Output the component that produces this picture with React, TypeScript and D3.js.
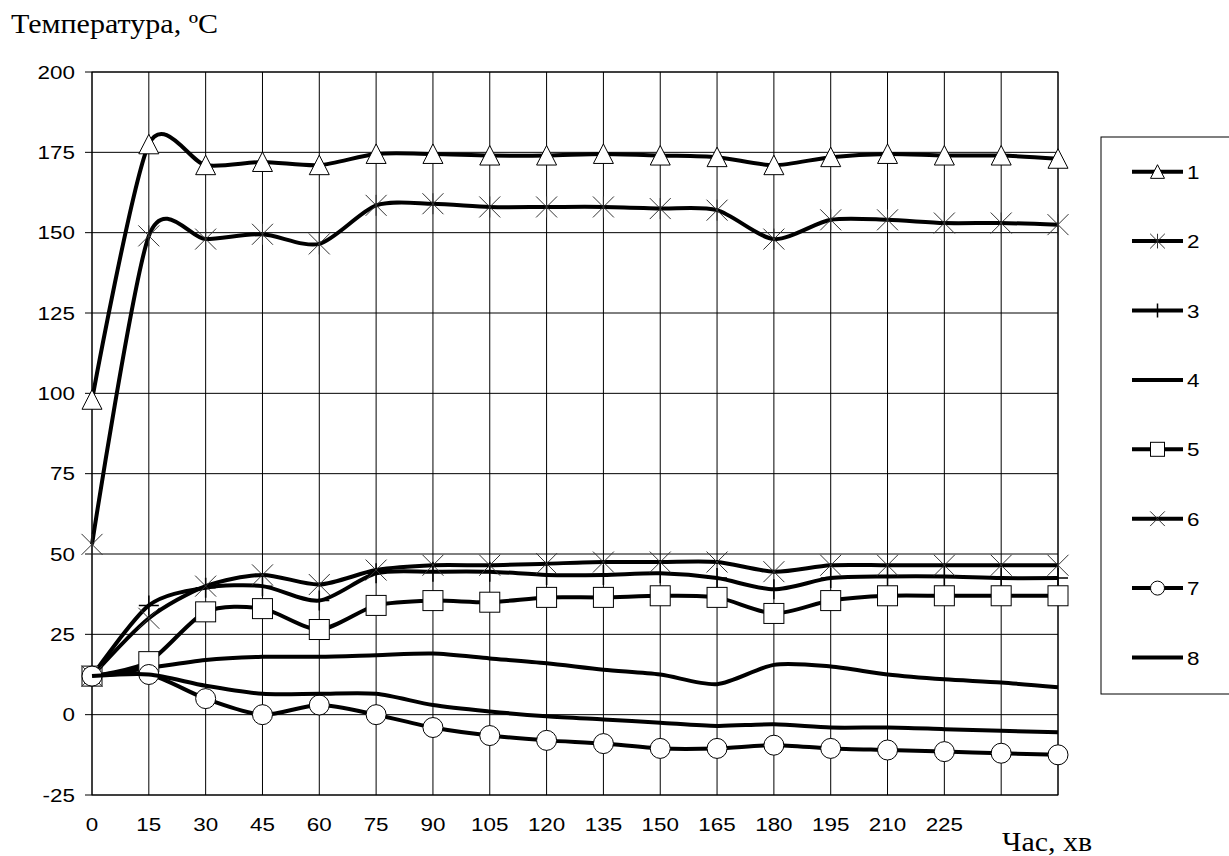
import React from 'react';
import * as d3 from 'd3';

// ---- data ----
const times = [0, 15, 30, 45, 60, 75, 90, 105, 120, 135, 150, 165, 180, 195, 210, 225, 240, 255];
const xTickLabels = [0, 15, 30, 45, 60, 75, 90, 105, 120, 135, 150, 165, 180, 195, 210, 225];
const yTicks = [-25, 0, 25, 50, 75, 100, 125, 150, 175, 200];

const series1 = [98, 177.5, 171, 172, 171, 174.5, 174.5, 174, 174, 174.5, 174, 173.5, 171, 173.5, 174.5, 174, 174, 173];
const series2 = [53, 149, 148, 149.5, 146.5, 158.5, 159, 158, 158, 158, 157.5, 157, 148, 154, 154, 153, 153, 152.5];
const series3 = [12, 34, 39.5, 40, 35.5, 44, 44.5, 44.5, 43.5, 43.5, 44, 42.5, 39, 42.5, 43, 43, 42.5, 42.5];
const series4 = [12, 14.5, 17, 18, 18, 18.5, 19, 17.5, 16, 14, 12.5, 9.5, 15.5, 15, 12.5, 11, 10, 8.5];
const series5 = [12, 16.5, 32, 33, 26.5, 34, 35.5, 35, 36.5, 36.5, 37, 36.5, 31.5, 35.5, 37, 37, 37, 37];
const series6 = [12, 30, 40, 43.5, 40.5, 45, 46.5, 46.5, 47, 47.5, 47.5, 47.5, 44.5, 46.5, 46.5, 46.5, 46.5, 46.5];
const series7 = [12, 12.5, 5, 0, 3, 0, -4, -6.5, -8, -9, -10.5, -10.5, -9.5, -10.5, -11, -11.5, -12, -12.5];
const series8 = [12, 12.5, 9, 6.5, 6.5, 6.5, 3, 1, -0.5, -1.5, -2.5, -3.5, -3, -4, -4, -4.5, -5, -5.5];

const seriesNames = ['1', '2', '3', '4', '5', '6', '7', '8'];
const seriesValues = [series1, series2, series3, series4, series5, series6, series7, series8];
const seriesMarkers = ['triangle', 'star', 'plus', 'none', 'square', 'cross', 'circle', 'none'];

const yTitle = 'Температура, ºС';
const xTitle = 'Час, хв';

const SANS = '"Liberation Sans", Arial, sans-serif';
const SERIF = '"Liberation Serif", "Times New Roman", serif';

function Marker({ type, cx, cy, s }: { type: string; cx: number; cy: number; s: number }) {
  const h = s / 2;
  switch (type) {
    case 'triangle':
      return (
        <path
          d={`M${cx},${cy - h}L${cx + h},${cy + h * 0.95}L${cx - h},${cy + h * 0.95}Z`}
          fill="#fff"
          stroke="#000"
          strokeWidth={1}
        />
      );
    case 'square':
      return <rect x={cx - h} y={cy - h} width={s} height={s} fill="#fff" stroke="#000" strokeWidth={1} />;
    case 'circle':
      return <circle cx={cx} cy={cy} r={h} fill="#fff" stroke="#000" strokeWidth={1} />;
    case 'cross': {
      const a = h * 1.05;
      return (
        <path
          d={`M${cx - a},${cy - a}L${cx + a},${cy + a}M${cx - a},${cy + a}L${cx + a},${cy - a}`}
          stroke="#333"
          strokeWidth={1}
        />
      );
    }
    case 'star': {
      const a = h * 1.05;
      return (
        <path
          d={`M${cx - a},${cy - a}L${cx + a},${cy + a}M${cx - a},${cy + a}L${cx + a},${cy - a}M${cx},${cy - a}L${cx},${cy + a}`}
          stroke="#333"
          strokeWidth={1}
        />
      );
    }
    case 'plus':
      return (
        <path d={`M${cx - h},${cy}L${cx + h},${cy}M${cx},${cy - h}L${cx},${cy + h}`} stroke="#000" strokeWidth={1.5} />
      );
    default:
      return null;
  }
}

export default function App() {
  const W = 1229;
  const H = 856;
  const x = d3.scaleLinear().domain([0, 255]).range([92, 1058]);
  const y = d3.scaleLinear().domain([-25, 200]).range([795, 72]);
  const line = d3
    .line<number>()
    .x((_, i) => x(times[i]))
    .y((d) => y(d))
    .curve(d3.curveCardinal.tension(0.2));

  const [x0, x1] = x.range();
  const [yb, yt] = y.range();
  const SX = 1.18;

  const legendX = 1101;
  const legendTop = 137;
  const legendBottom = 694;
  const legendY0 = 171.7;
  const legendStep = 69.4;

  return (
    <svg
      width={W}
      height={H}
      style={{ position: 'absolute', left: 0, top: 0, background: '#fff' }}
      xmlns="http://www.w3.org/2000/svg"
    >
      <rect x={0} y={0} width={W} height={H} fill="#fff" />
      {/* grid */}
      {yTicks.map((v) => (
        <line key={'h' + v} x1={x0 - 7} x2={x1} y1={y(v)} y2={y(v)} stroke="#000" strokeWidth={1} />
      ))}
      {times.map((t) => (
        <line key={'v' + t} x1={x(t)} x2={x(t)} y1={yt} y2={yb} stroke="#000" strokeWidth={1} />
      ))}
      <rect x={x0} y={yt} width={x1 - x0} height={yb - yt} fill="none" stroke="#000" strokeWidth={1} />

      {/* y tick labels */}
      {yTicks.map((v) => (
        <text
          key={'yl' + v}
          transform={`translate(75,${y(v) + 6.5}) scale(${SX},1)`}
          textAnchor="end"
          fontFamily={SANS}
          fontSize={19}
          fill="#000"
        >
          {v}
        </text>
      ))}
      {/* x tick labels */}
      {xTickLabels.map((t) => (
        <text
          key={'xl' + t}
          transform={`translate(${x(t)},831) scale(${SX},1)`}
          textAnchor="middle"
          fontFamily={SANS}
          fontSize={19}
          fill="#000"
        >
          {t}
        </text>
      ))}

      {/* series */}
      {seriesValues.map((vals, si) => (
        <g key={'s' + si}>
          <path d={line(vals) || ''} fill="none" stroke="#000" strokeWidth={4} strokeLinejoin="round" />
          {vals.map((v, i) => (
            <Marker key={i} type={seriesMarkers[si]} cx={x(times[i])} cy={y(v)} s={20} />
          ))}
        </g>
      ))}

      {/* titles */}
      <text x={11} y={33} fontFamily={SERIF} fontSize={27} textLength={207} lengthAdjust="spacingAndGlyphs" fill="#000">
        {yTitle}
      </text>
      <text x={1002} y={851} fontFamily={SERIF} fontSize={27} textLength={90} lengthAdjust="spacingAndGlyphs" fill="#000">
        {xTitle}
      </text>

      {/* legend */}
      <rect
        x={legendX}
        y={legendTop}
        width={W - legendX + 20}
        height={legendBottom - legendTop}
        fill="#fff"
        stroke="#000"
        strokeWidth={1}
      />
      {seriesNames.map((name, i) => {
        const ly = legendY0 + i * legendStep;
        return (
          <g key={'lg' + name}>
            <line x1={1132} x2={1183} y1={ly} y2={ly} stroke="#000" strokeWidth={4} />
            <Marker type={seriesMarkers[i]} cx={1157.5} cy={ly} s={14} />
            <text
              transform={`translate(1187,${ly + 7}) scale(${SX},1)`}
              fontFamily={SANS}
              fontSize={19}
              fill="#000"
            >
              {name}
            </text>
          </g>
        );
      })}
    </svg>
  );
}
